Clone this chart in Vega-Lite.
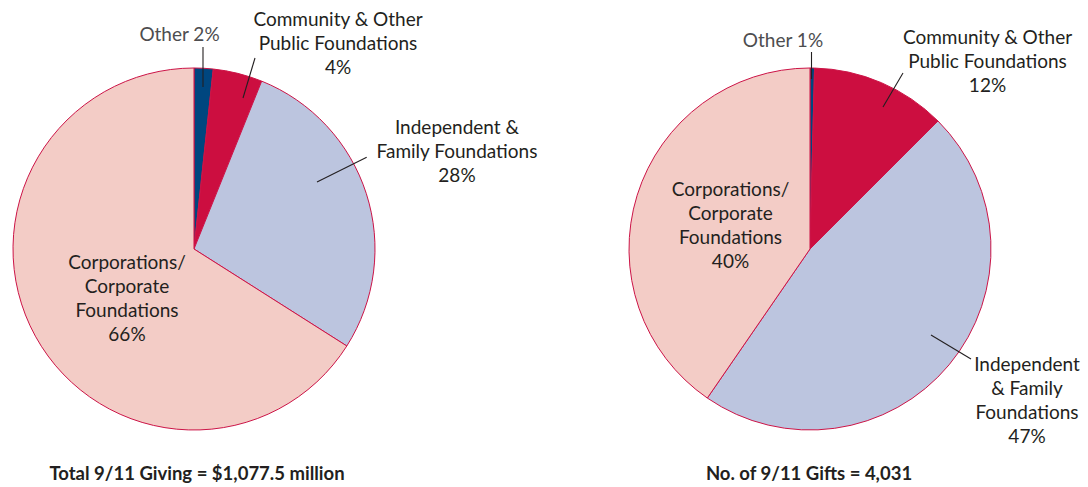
{
  "$schema": "https://vega.github.io/schema/vega-lite/v6.json",
  "padding": 0,
  "spacing": 0,
  "bounds": "flush",
  "config": {"view": {"stroke": null}, "font": "Lato"},
  "datasets": {
    "slices": [
      {"chart": "giving", "segment": "Other", "share": 1.7, "rank": 1},
      {"chart": "giving", "segment": "Community & Other Public Foundations", "share": 4.4, "rank": 2},
      {"chart": "giving", "segment": "Independent & Family Foundations", "share": 27.9, "rank": 3},
      {"chart": "giving", "segment": "Corporations/Corporate Foundations", "share": 66.0, "rank": 4},
      {"chart": "gifts", "segment": "Other", "share": 0.4, "rank": 1},
      {"chart": "gifts", "segment": "Community & Other Public Foundations", "share": 12.1, "rank": 2},
      {"chart": "gifts", "segment": "Independent & Family Foundations", "share": 47.1, "rank": 3},
      {"chart": "gifts", "segment": "Corporations/Corporate Foundations", "share": 40.4, "rank": 4}
    ],
    "labels": [
      {"chart": "giving", "kind": "other", "label": "Other 2%", "x": -0.0801, "y": 1.1823},
      {"chart": "giving", "kind": "main", "label": "Community & Other\nPublic Foundations\n4%", "x": 0.7956, "y": 1.2652},
      {"chart": "giving", "kind": "main", "label": "Independent &\nFamily Foundations\n28%", "x": 1.4530, "y": 0.6685},
      {"chart": "giving", "kind": "main", "label": "Corporations/\nCorporate\nFoundations\n66%", "x": -0.3702, "y": -0.0773},
      {"chart": "gifts", "kind": "other", "label": "Other 1%", "x": -0.1492, "y": 1.1492},
      {"chart": "gifts", "kind": "main", "label": "Community & Other\nPublic Foundations\n12%", "x": 0.9807, "y": 1.1657},
      {"chart": "gifts", "kind": "main", "label": "Corporations/\nCorporate\nFoundations\n40%", "x": -0.4392, "y": 0.3260},
      {"chart": "gifts", "kind": "main", "label": "Independent\n& Family\nFoundations\n47%", "x": 1.1989, "y": -0.6409}
    ],
    "captions": [
      {"chart": "giving", "label": "Total 9/11 Giving = $1,077.5 million", "x": 0.0166, "y": -1.2431},
      {"chart": "gifts", "label": "No. of 9/11 Gifts = 4,031", "x": -0.0055, "y": -1.2431}
    ],
    "leaders": [
      {"chart": "giving", "x": 0.0497, "y": 1.1160, "x2": 0.0497, "y2": 0.8950},
      {"chart": "giving", "x": 0.3370, "y": 1.0552, "x2": 0.2707, "y2": 0.8343},
      {"chart": "giving", "x": 0.9541, "y": 0.5066, "x2": 0.6796, "y2": 0.3702},
      {"chart": "gifts", "x": 0.0083, "y": 1.0884, "x2": 0.0083, "y2": 0.9392},
      {"chart": "gifts", "x": 0.5138, "y": 0.9724, "x2": 0.4033, "y2": 0.7845},
      {"chart": "gifts", "x": 0.6685, "y": -0.4751, "x2": 0.8895, "y2": -0.6077}
    ]
  },
  "hconcat": [
    {
      "width": 544,
      "height": 487,
      "resolve": {"scale": {"color": "independent"}},
      "layer": [
        {
          "data": {"name": "slices"},
          "transform": [{"filter": "datum.chart === 'giving'"}],
          "mark": {"type": "arc", "radius": 181, "stroke": "#cc1447", "strokeWidth": 1},
          "encoding": {
            "theta": {"field": "share", "type": "quantitative", "stack": true},
            "order": {"field": "rank", "type": "quantitative"},
            "color": {"field": "segment", "type": "nominal", "legend": null,
              "scale": {"domain": ["Other", "Community & Other Public Foundations", "Independent & Family Foundations", "Corporations/Corporate Foundations"],
                        "range": ["#00467f", "#cc0e40", "#bcc5df", "#f3ccc6"]}},
            "x": {"datum": 0, "type": "quantitative", "scale": {"domain": [-1.07182, 1.93370], "nice": false, "zero": false}, "axis": null},
            "y": {"datum": 0, "type": "quantitative", "scale": {"domain": [-1.31492, 1.37569], "nice": false, "zero": false}, "axis": null}
          }
        },
        {
          "data": {"name": "leaders"},
          "transform": [{"filter": "datum.chart === 'giving'"}],
          "mark": {"type": "rule", "color": "#231f20", "strokeWidth": 1.1},
          "encoding": {
            "x": {"field": "x", "type": "quantitative"},
            "y": {"field": "y", "type": "quantitative"},
            "x2": {"field": "x2"},
            "y2": {"field": "y2"}
          }
        },
        {
          "data": {"name": "labels"},
          "transform": [{"filter": "datum.chart === 'giving'"}],
          "mark": {"type": "text", "fontSize": 19, "lineHeight": 24, "lineBreak": "\n", "align": "center", "baseline": "middle"},
          "encoding": {
            "x": {"field": "x", "type": "quantitative"},
            "y": {"field": "y", "type": "quantitative"},
            "text": {"field": "label"},
            "color": {"field": "kind", "type": "nominal", "legend": null, "scale": {"domain": ["main", "other"], "range": ["#231f20", "#4d4d4f"]}}
          }
        },
        {
          "data": {"name": "captions"},
          "transform": [{"filter": "datum.chart === 'giving'"}],
          "mark": {"type": "text", "fontSize": 18.5, "fontWeight": "bold", "color": "#231f20", "align": "center", "baseline": "middle"},
          "encoding": {
            "x": {"field": "x", "type": "quantitative"},
            "y": {"field": "y", "type": "quantitative"},
            "text": {"field": "label"}
          }
        }
      ]
    },
    {
      "width": 544,
      "height": 487,
      "resolve": {"scale": {"color": "independent"}},
      "layer": [
        {
          "data": {"name": "slices"},
          "transform": [{"filter": "datum.chart === 'gifts'"}],
          "mark": {"type": "arc", "radius": 181, "stroke": "#cc1447", "strokeWidth": 1},
          "encoding": {
            "theta": {"field": "share", "type": "quantitative", "stack": true},
            "order": {"field": "rank", "type": "quantitative"},
            "color": {"field": "segment", "type": "nominal", "legend": null,
              "scale": {"domain": ["Other", "Community & Other Public Foundations", "Independent & Family Foundations", "Corporations/Corporate Foundations"],
                        "range": ["#00467f", "#cc0e40", "#bcc5df", "#f3ccc6"]}},
            "x": {"datum": 0, "type": "quantitative", "scale": {"domain": [-1.46961, 1.53591], "nice": false, "zero": false}, "axis": null},
            "y": {"datum": 0, "type": "quantitative", "scale": {"domain": [-1.31492, 1.37569], "nice": false, "zero": false}, "axis": null}
          }
        },
        {
          "data": {"name": "leaders"},
          "transform": [{"filter": "datum.chart === 'gifts'"}],
          "mark": {"type": "rule", "color": "#231f20", "strokeWidth": 1.1},
          "encoding": {
            "x": {"field": "x", "type": "quantitative"},
            "y": {"field": "y", "type": "quantitative"},
            "x2": {"field": "x2"},
            "y2": {"field": "y2"}
          }
        },
        {
          "data": {"name": "labels"},
          "transform": [{"filter": "datum.chart === 'gifts'"}],
          "mark": {"type": "text", "fontSize": 19, "lineHeight": 24, "lineBreak": "\n", "align": "center", "baseline": "middle"},
          "encoding": {
            "x": {"field": "x", "type": "quantitative"},
            "y": {"field": "y", "type": "quantitative"},
            "text": {"field": "label"},
            "color": {"field": "kind", "type": "nominal", "legend": null, "scale": {"domain": ["main", "other"], "range": ["#231f20", "#4d4d4f"]}}
          }
        },
        {
          "data": {"name": "captions"},
          "transform": [{"filter": "datum.chart === 'gifts'"}],
          "mark": {"type": "text", "fontSize": 18.5, "fontWeight": "bold", "color": "#231f20", "align": "center", "baseline": "middle"},
          "encoding": {
            "x": {"field": "x", "type": "quantitative"},
            "y": {"field": "y", "type": "quantitative"},
            "text": {"field": "label"}
          }
        }
      ]
    }
  ]
}
